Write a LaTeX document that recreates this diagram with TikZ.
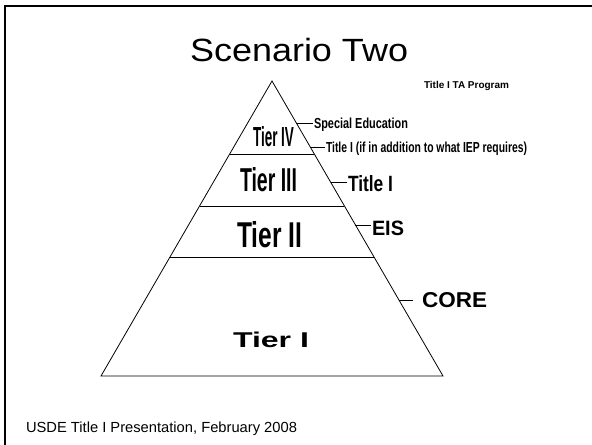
\documentclass[tikz,border=0pt]{standalone}
\usepackage{fontspec}
\setmainfont{Liberation Sans}
\usetikzlibrary{calc}
\newcommand{\myfit}[3]{\resizebox{#1bp}{#2bp}{#3}}
\begin{document}
\begin{tikzpicture}[x=1bp,y=-1bp,
  lbl/.style={anchor=base west, inner sep=0pt, outer sep=0pt},
  thinline/.style={line width=0.8bp, black},
  tickline/.style={line width=0.8bp, black, shorten >=1.5bp}]
\useasboundingbox (0,0) rectangle (592,445);
\fill[white] (0,0) rectangle (592,445);
% slide frame
\draw[line width=2.3bp, line join=miter] (592,6) -- (5,6) -- (5,445);
% title and footer
\node[lbl] (title) at (190,62) {\myfit{218}{23.3}{Scenario Two}};
\node[lbl] (foot) at (26,432.5) {\myfit{271}{10.6}{USDE Title I Presentation, February 2008}};
\node[lbl] (prog) at (424,89) {\myfit{85}{7.2}{\bfseries Title I TA Program}};
% pyramid
\coordinate (A) at (272,81);
\coordinate (BL) at (101,376);
\coordinate (BR) at (443,376);
\draw[thinline, line join=miter] (A) -- (BL) -- (BR) -- cycle;
\coordinate (L4) at ($(A)!0.2475!(BL)$);
\coordinate (R4) at ($(A)!0.2475!(BR)$);
\coordinate (L3) at ($(A)!0.4237!(BL)$);
\coordinate (R3) at ($(A)!0.4237!(BR)$);
\coordinate (L2) at ($(A)!0.5966!(BL)$);
\coordinate (R2) at ($(A)!0.5966!(BR)$);
\draw[thinline] (L4) -- (R4);
\draw[thinline] (L3) -- (R3);
\draw[thinline] (L2) -- (R2);
% tier labels
\node[lbl] (t4) at (253,147) {\myfit{41}{20}{\bfseries Tier IV}};
\node[lbl] (t3) at (240,192) {\myfit{57}{24}{\bfseries Tier III}};
\node[lbl] (t2) at (237,248) {\myfit{65}{26}{\bfseries Tier II}};
\node[lbl] (t1) at (233,347) {\myfit{76}{15.5}{\bfseries Tier I}};
% side labels
\node[lbl] (sped) at (314,129) {\myfit{94}{10.5}{\bfseries Special Education}};
\node[lbl] (tiep) at (326,152.5) {\myfit{201}{10.5}{\bfseries Title I (if in addition to what IEP requires)}};
\node[lbl] (tone) at (348,192) {\myfit{45}{16}{\bfseries Title I}};
\node[lbl] (eis) at (372,236) {\myfit{32}{14.5}{\bfseries EIS}};
\node[lbl] (core) at (422,307.5) {\myfit{65}{15}{\bfseries CORE}};
% tick connectors
\coordinate (e1) at ($(A)!0.1424!(BR)$);
\coordinate (e2) at ($(A)!0.2254!(BR)$);
\coordinate (e3) at ($(A)!0.3424!(BR)$);
\coordinate (e4) at ($(A)!0.4881!(BR)$);
\coordinate (e5) at ($(A)!0.7424!(BR)$);
\draw[tickline] (e1) -- (e1 -| sped.west);
\draw[tickline] (e2) -- (e2 -| tiep.west);
\draw[tickline] (e3) -- (e3 -| tone.west);
\draw[tickline] (e4) -- (e4 -| eis.west);
\draw[tickline, shorten >=9bp] (e5) -- (e5 -| core.west);
\end{tikzpicture}
\end{document}
